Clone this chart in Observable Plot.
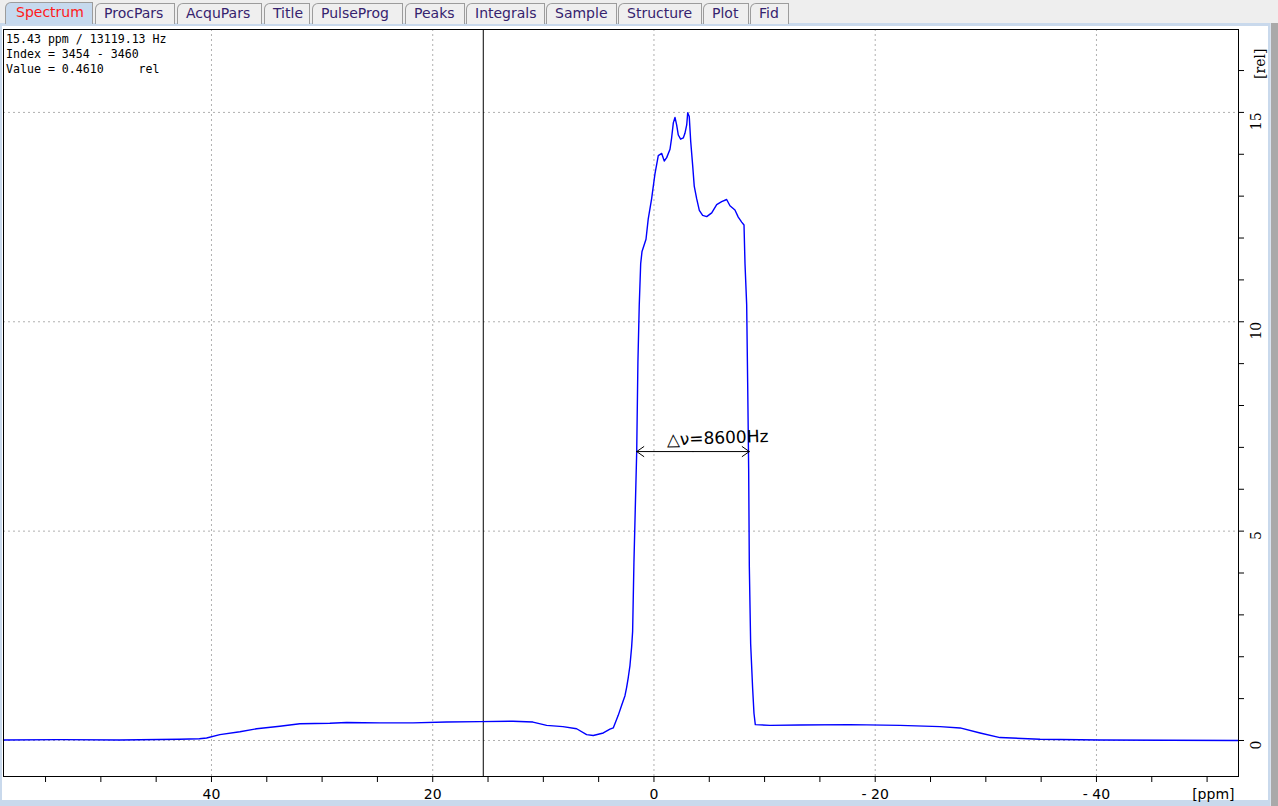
<!DOCTYPE html>
<html><head><meta charset="utf-8">
<script src="https://cdn.jsdelivr.net/npm/d3@7"></script>
<script src="https://cdn.jsdelivr.net/npm/@observablehq/plot@0.6"></script>
<style>
html,body{margin:0;padding:0;}
body{width:1278px;height:806px;overflow:hidden;position:relative;background:#eeeeee;font-family:"DejaVu Sans",sans-serif;}
#band{position:absolute;left:0;top:23px;width:1270px;height:783px;background:#c9d9ec;}
#white{position:absolute;left:2px;top:26px;width:1266px;height:774px;background:#ffffff;}
#rightbar{position:absolute;left:1270px;top:23px;width:8px;height:783px;background:#a9a9a9;border-left:1px solid #d9e3ef;box-sizing:border-box;}
.tab{position:absolute;top:3px;height:21px;box-sizing:border-box;border:1px solid #9c9c9c;border-bottom:none;border-top-left-radius:6px;background:#efefef;color:#36236e;font-size:14px;line-height:19px;padding-left:8px;white-space:nowrap;}
.tab.sel{top:2px;height:22px;background:#c6d9ee;color:#ff1a1a;padding-left:10px;}
#info{position:absolute;left:6px;top:32px;font-family:"DejaVu Sans Mono",monospace;font-size:11.6px;line-height:15px;color:#000;white-space:pre;}
#chart{position:absolute;left:0;top:0;}
</style>
</head><body>
<div id="band"></div>
<div id="white"></div>
<div id="rightbar"></div>
<div id="tabs"></div>
<div id="chart"></div>
<div id="info"></div>
<script>
// ---- data ----
const tabNames = ["Spectrum","ProcPars","AcquPars","Title","PulseProg","Peaks","Integrals","Sample","Structure","Plot","Fid"];
const tabLeft  = [5, 95, 177, 264, 312, 405, 466, 546, 618, 703, 750];
const tabRight = [93, 175, 262, 310, 403, 465, 545, 617, 702, 749, 789];
const infoLines = ["15.43 ppm / 13119.13 Hz", "Index = 3454 - 3460", "Value = 0.4610     rel"];

const ppm = [58.8, 53.7, 48.3, 42.9, 41.1, 40.44, 39.24, 37.43, 35.92, 33.82, 32.01, 29.3, 27.78, 24.77, 21.79, 18.74, 15.73, 12.75, 10.94, 9.7, 8.23, 6.99, 6.09, 5.49, 4.58, 3.98, 3.68, 3.23, 2.92, 2.62, 2.47, 2.32, 2.17, 2.02, 1.93, 1.81, 1.69, 1.56, 1.45, 1.33, 1.20, 1.08, 0.72, 0.52, 0.21, -0.09, -0.39, -0.70, -0.93, -1.15, -1.45, -1.60, -1.75, -1.90, -2.05, -2.20, -2.41, -2.65, -2.80, -2.96, -3.05, -3.19, -3.32, -3.50, -3.64, -3.86, -4.10, -4.40, -4.77, -5.22, -5.67, -6.12, -6.57, -6.87, -7.32, -7.62, -7.93, -8.14, -8.23, -8.38, -8.47, -8.56, -8.62, -8.74, -8.92, -9.04, -9.16, -10.49, -13.2, -17.72, -22.24, -25.86, -27.67, -29.48, -31.28, -34.9, -40.33, -52.84];
const rel = [0.01, 0.02, 0.01, 0.03, 0.04, 0.06, 0.14, 0.21, 0.28, 0.34, 0.40, 0.41, 0.43, 0.42, 0.42, 0.44, 0.45, 0.46, 0.44, 0.36, 0.33, 0.28, 0.14, 0.12, 0.18, 0.27, 0.30, 0.60, 0.84, 1.07, 1.27, 1.51, 1.79, 2.23, 2.60, 4.26, 5.53, 6.90, 9.05, 10.40, 11.39, 11.68, 11.97, 12.45, 12.94, 13.53, 13.97, 14.02, 13.84, 13.92, 14.12, 14.40, 14.75, 14.88, 14.70, 14.46, 14.36, 14.39, 14.50, 14.70, 14.99, 14.90, 14.31, 13.73, 13.24, 12.94, 12.66, 12.54, 12.51, 12.60, 12.80, 12.87, 12.92, 12.77, 12.67, 12.50, 12.38, 12.31, 11.38, 10.41, 8.55, 6.50, 4.16, 2.31, 1.24, 0.65, 0.38, 0.36, 0.37, 0.38, 0.36, 0.33, 0.30, 0.18, 0.07, 0.03, 0.01, 0.00];

const xMajor = [40, 20, 0, -20, -40];
const xMajorLabels = ["40", "20", "0", "- 20", "- 40"];
const xMinor = [55, 50, 45, 40, 35, 30, 25, 20, 15, 10, 5, 0, -5, -10, -15, -20, -25, -30, -35, -40, -45, -50];
const yMajor = [0, 5, 10, 15];
const yMinor = [0, 1, 2, 3, 4, 5, 6, 7, 8, 9, 10, 11, 12, 13, 14, 15, 16];
const xDomain = [58.8, -52.84];
const yDomain = [-0.86, 16.98];
const cursorPpm = [15.43];
const widthLeft = 1.56, widthRight = -8.62, widthLevel = 6.9;
const annotation = "△ν=8600Hz";
const annotationPpm = -5.75, annotationRel = 7.22;

// ---- tabs & info ----
const tabs = document.getElementById("tabs");
tabNames.forEach((n, i) => {
  const d = document.createElement("div");
  d.className = "tab" + (i === 0 ? " sel" : "");
  d.style.left = tabLeft[i] + "px";
  d.style.width = (tabRight[i] - tabLeft[i]) + "px";
  d.textContent = n;
  tabs.appendChild(d);
});
document.getElementById("info").textContent = infoLines.join("\n");

// ---- chart ----
const data = ppm.map((x, i) => ({ppm: x, rel: rel[i]}));
const mid = (widthLeft + widthRight) / 2;
const arrows = [
  {x1: mid, x2: widthLeft, y: widthLevel},
  {x1: mid, x2: widthRight, y: widthLevel}
];
const gridStyle = {stroke: "#b0b0b0", strokeOpacity: 1, strokeDasharray: "2,3", strokeWidth: 1};

const chart = Plot.plot({
  width: 1268,
  height: 806,
  marginTop: 29,
  marginBottom: 30,
  marginLeft: 3,
  marginRight: 30,
  style: {background: "transparent", overflow: "visible"},
  x: {domain: xDomain, axis: null},
  y: {domain: yDomain, axis: null},
  marks: [
    Plot.gridX(xMajor, gridStyle),
    Plot.gridY(yMajor, gridStyle),
    Plot.ruleX(cursorPpm, {stroke: "black", strokeWidth: 1}),
    Plot.line(data, {x: "ppm", y: "rel", stroke: "#0000ff", strokeWidth: 1.4}),
    Plot.arrow(arrows, {x1: "x1", x2: "x2", y1: "y", y2: "y", stroke: "black", strokeWidth: 1, headLength: 13, headAngle: 70}),
    Plot.text([annotation], {x: () => annotationPpm, y: () => annotationRel, text: d => d, fontSize: 17, fontFamily: "DejaVu Sans", fill: "black", rotate: -2}),
    Plot.frame({stroke: "black", strokeWidth: 1}),
    Plot.axisX(xMinor, {anchor: "bottom", tickSize: 6, tickFormat: () => "", stroke: "black", strokeWidth: 1}),
    Plot.text(xMajor, {x: d => d, text: (d, i) => xMajorLabels[i], frameAnchor: "bottom", dy: 22, fontSize: 14, fontFamily: "DejaVu Sans", fill: "black"}),
    Plot.text(["[ppm]"], {frameAnchor: "bottom-right", dx: -4, dy: 22, textAnchor: "end", fontSize: 14, fontFamily: "DejaVu Sans", fill: "black"}),
    Plot.axisY(yMinor, {anchor: "right", tickSize: 5, tickFormat: () => "", stroke: "black", strokeWidth: 1}),
    Plot.text(yMajor, {y: d => d, text: d => String(d), frameAnchor: "right", dx: 18, rotate: -90, fontSize: 14, fontFamily: "DejaVu Serif", fill: "black"}),
    Plot.text(["[rel]"], {frameAnchor: "top-right", dx: 17, dy: 19, rotate: -90, fontSize: 14, fontFamily: "DejaVu Serif", fill: "black"})
  ]
});
document.getElementById("chart").appendChild(chart);
</script>
</body></html>
